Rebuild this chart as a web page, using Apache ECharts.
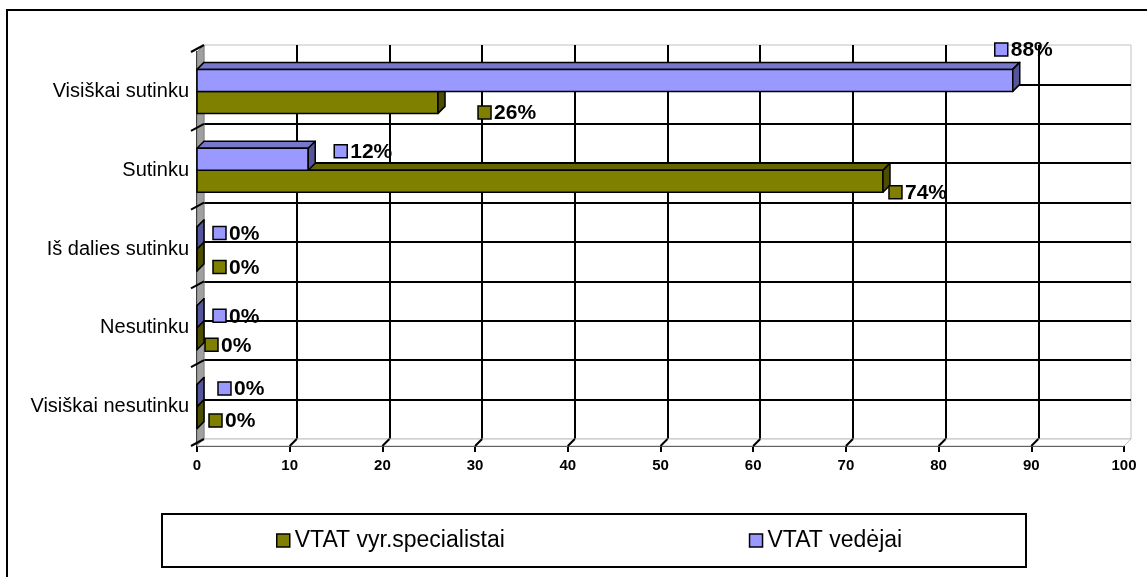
<!DOCTYPE html>
<html>
<head>
<meta charset="utf-8">
<script src="https://cdn.jsdelivr.net/npm/echarts@6/dist/echarts.min.js"></script>
<style>
  html, body { margin: 0; padding: 0; background: #fff; }
  #chart { width: 1147px; height: 577px; }
</style>
</head>
<body>
<div id="chart"></div>
<script>
// categories top -> bottom
const categories = ['Visiškai sutinku', 'Sutinku', 'Iš dalies sutinku', 'Nesutinku', 'Visiškai nesutinku'];
const vedejai = [88, 12, 0, 0, 0];       // VTAT vedėjai (blue)
const specialistai = [26, 74, 0, 0, 0];  // VTAT vyr.specialistai (olive)

// label nudges (key left from bar end, centre y from bar centre) - Excel put them a bit randomly
const vedejaiLabelShift = [[-18, -31], [26, -8], [16, -5], [16, -1], [21, -7]];
const specLabelShift = [[40, 10], [6, 11], [16, 7], [8, 6], [12, 3]];

const FONT = '"Liberation Sans", Arial, sans-serif';
const DX = 7, DY = -7;   // 3d depth
const BAR = 22;

const blue = { front: '#9999ff', top: '#7777cc', side: '#555599' };
const olive = { front: '#808000', top: '#666600', side: '#4d4d00' };

function barSeries(name, values, side, col, shifts) {
  return {
    type: 'custom',
    name: name,
    xAxisIndex: 1,
    yAxisIndex: 1,
    itemStyle: { color: col.front, borderColor: '#000', borderWidth: 1.5 },
    data: values.map((v, i) => [v, i]),
    renderItem: (params, api) => {
      const v = api.value(0), i = api.value(1);
      const p0 = api.coord([0, i]);
      const p1 = api.coord([v, i]);
      const x0 = p0[0], x1 = p1[0];
      const y0 = side < 0 ? p0[1] - BAR : p0[1];
      const y1 = y0 + BAR;
      const st = { stroke: '#000', lineWidth: 1.5, lineJoin: 'round' };
      const sh = shifts[i];
      const ky = (y0 + y1) / 2 + sh[1];
      const kx = x1 + sh[0];
      return {
        type: 'group',
        children: [
          { type: 'polygon', shape: { points: [[x0, y0], [x1, y0], [x1 + DX, y0 + DY], [x0 + DX, y0 + DY]] },
            style: Object.assign({ fill: col.top }, st) },
          { type: 'rect', shape: { x: x0, y: y0, width: x1 - x0, height: BAR },
            style: Object.assign({ fill: col.front }, st) },
          { type: 'polygon', shape: { points: [[x1, y0], [x1, y1], [x1 + DX, y1 + DY], [x1 + DX, y0 + DY]] },
            style: Object.assign({ fill: col.side }, st) },
          { type: 'rect', z2: 20, shape: { x: kx, y: ky - 6.5, width: 13, height: 13 },
            style: { fill: col.front, stroke: '#000', lineWidth: 1.5 } },
          { type: 'text', z2: 20, x: kx + 16, y: ky + 1,
            style: { text: v + '%', fill: '#000', font: 'bold 21px ' + FONT, verticalAlign: 'middle' } }
        ]
      };
    }
  };
}

// left wall + floor of the 3d box
const wallSeries = {
  type: 'custom',
  xAxisIndex: 1,
  yAxisIndex: 1,
  silent: true,
  z: 1,
  data: [[0, 0]],
  renderItem: (params, api) => {
    const n = categories.length;
    const band = api.size([0, 1])[1];
    const c0 = api.coord([0, 0]);
    const cN = api.coord([0, n - 1]);
    const x0 = c0[0];
    const x100 = api.coord([100, 0])[0];
    const yTop = c0[1] - band / 2;
    const yBot = cN[1] + band / 2;
    const kids = [
      { type: 'polygon', shape: { points: [[x0, yTop], [x0, yBot], [x0 + DX, yBot + DY], [x0 + DX, yTop + DY]] },
        style: { fill: '#a0a0a0', stroke: '#808080', lineWidth: 1 } },
      { type: 'polygon', shape: { points: [[x0, yBot], [x100, yBot], [x100 + DX, yBot + DY], [x0 + DX, yBot + DY]] },
        style: { fill: '#ffffff', stroke: '#c0c0c0', lineWidth: 1 } }
    ];
    for (let k = 0; k <= n; k++) {
      const y = yTop + k * band;
      kids.push({ type: 'line', shape: { x1: x0 - 6, y1: y, x2: x0 + DX, y2: y + DY }, style: { stroke: '#000', lineWidth: 2 } });
    }
    for (let t = 10; t <= 90; t += 10) {
      const x = api.coord([t, 0])[0];
      kids.push({ type: 'line', shape: { x1: x, y1: yBot, x2: x + DX, y2: yBot + DY }, style: { stroke: '#000', lineWidth: 2 } });
    }
    return { type: 'group', children: kids };
  }
};

const chart = echarts.init(document.getElementById('chart'));
const G = { left: 197, right: 23, top: 52, height: 394 };

chart.setOption({
  animation: false,
  backgroundColor: '#fff',
  graphic: [
    { type: 'polyline', shape: { points: [[7, 577], [7, 10], [1147, 10]] }, style: { stroke: '#000', lineWidth: 2, fill: null } },
    { type: 'rect', shape: { x: 162, y: 514, width: 864, height: 53 }, style: { fill: '#fff', stroke: '#000', lineWidth: 2 }, z: -1 }
  ],
  legend: {
    left: 276,
    top: 529,
    padding: 0,
    itemWidth: 13,
    itemHeight: 13,
    itemGap: 244,
    icon: 'rect',
    itemStyle: { borderColor: '#000', borderWidth: 1.5 },
    textStyle: { fontFamily: FONT, fontSize: 23, color: '#000' },
    data: ['VTAT vyr.specialistai', 'VTAT vedėjai']
  },
  grid: [
    // back wall
    { left: G.left + DX, right: G.right - DX, top: G.top + DY, height: G.height, show: true, borderColor: '#c0c0c0', borderWidth: 1 },
    // front
    { left: G.left, right: G.right, top: G.top, height: G.height }
  ],
  xAxis: [
    { gridIndex: 0, type: 'value', min: 0, max: 100, interval: 10,
      axisLine: { show: false }, axisTick: { show: false }, axisLabel: { show: false },
      splitLine: { show: true, showMinLine: false, showMaxLine: false, lineStyle: { color: '#000', width: 2 } } },
    { gridIndex: 1, type: 'value', min: 0, max: 100, interval: 10,
      axisLine: { show: true, onZero: false, lineStyle: { color: '#000', width: 2 } },
      axisTick: { show: true, length: 6, lineStyle: { color: '#000', width: 2 } },
      axisLabel: { fontFamily: FONT, fontWeight: 'bold', fontSize: 15, color: '#000', margin: 12 },
      splitLine: { show: false } }
  ],
  yAxis: [
    { gridIndex: 0, type: 'value', min: 0, max: 5, interval: 0.5,
      axisLine: { show: false }, axisTick: { show: false }, axisLabel: { show: false },
      splitLine: { show: true, showMinLine: false, showMaxLine: false, lineStyle: { color: '#000', width: 2 } } },
    { gridIndex: 1, type: 'category', data: categories, inverse: true,
      axisLine: { show: true, lineStyle: { color: '#000', width: 2 } },
      axisTick: { show: false },
      axisLabel: { fontFamily: FONT, fontSize: 20, color: '#000', margin: 8 },
      splitLine: { show: false } }
  ],
  series: [
    wallSeries,
    barSeries('VTAT vyr.specialistai', specialistai, 1, olive, specLabelShift),
    barSeries('VTAT vedėjai', vedejai, -1, blue, vedejaiLabelShift)
  ]
});
</script>
</body>
</html>
